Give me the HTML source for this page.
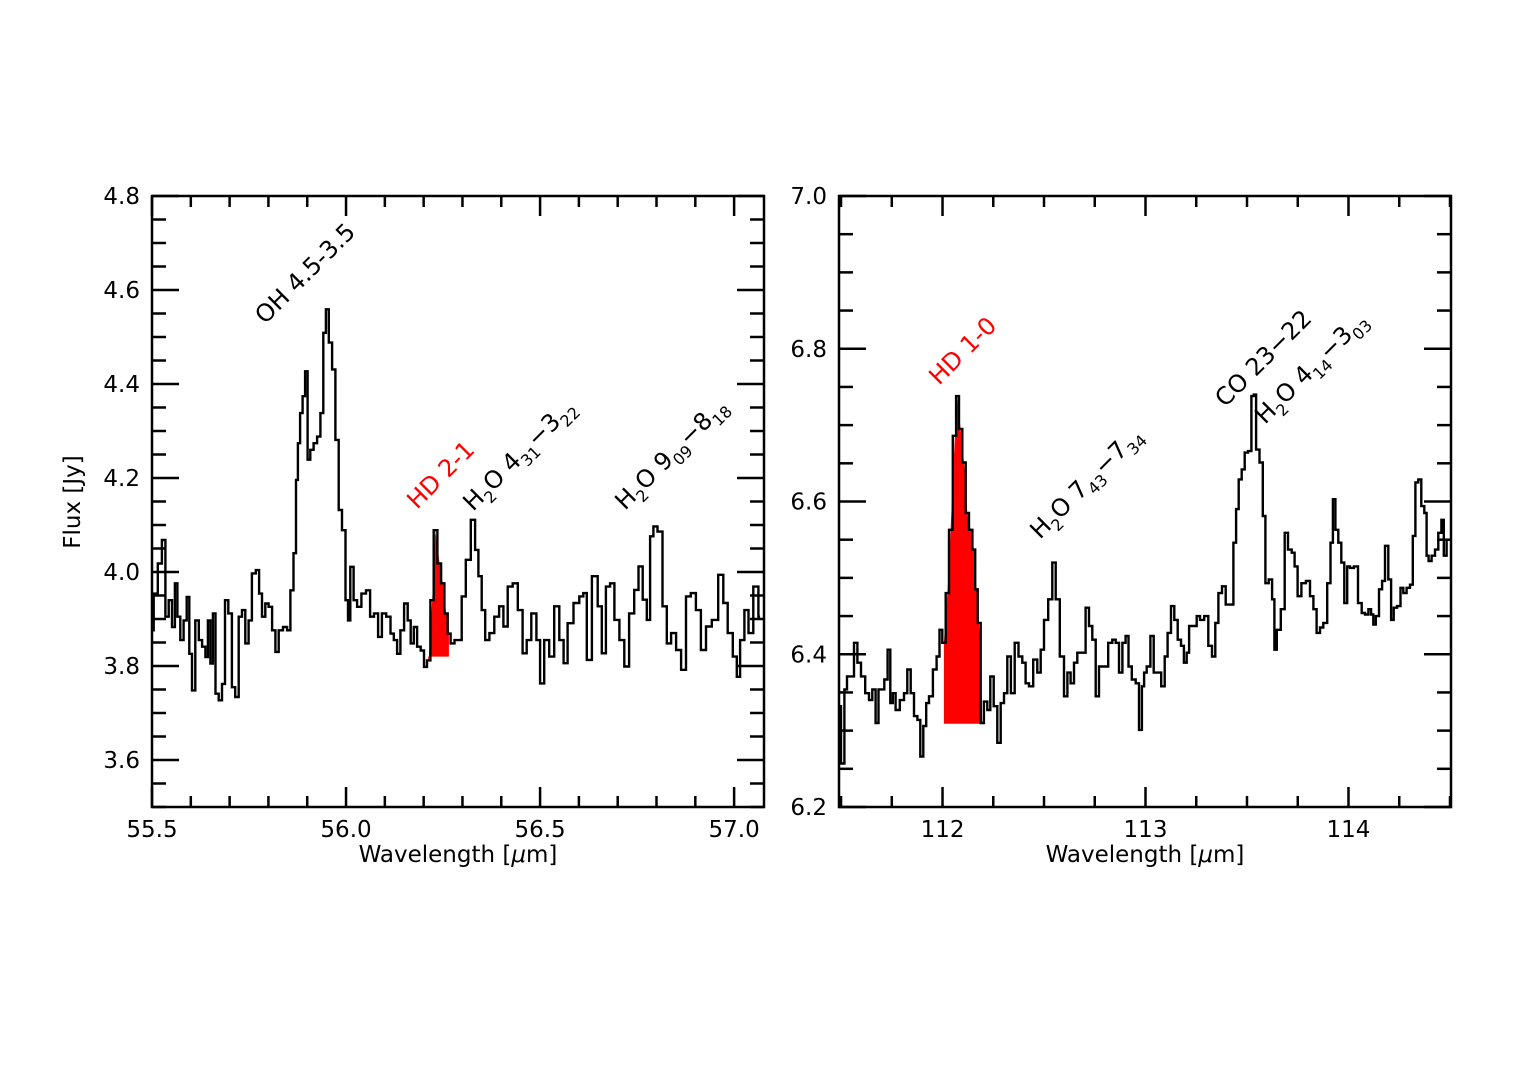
<!DOCTYPE html>
<html><head><meta charset="utf-8"><style>
html,body{margin:0;padding:0;background:#fff;}
svg{display:block;font-family:"DejaVu Sans","Liberation Sans",sans-serif;}
</style></head><body>
<svg id="fig" width="1528" height="1080" viewBox="0 0 1528 1080" xmlns="http://www.w3.org/2000/svg"></svg>
<script>
// ---- Left panel data ----
const leftWl = [55.500,55.509,55.521,55.530,55.539,55.547,55.556,55.562,55.569,55.577,55.586,55.593,55.599,55.607,55.616,55.625,55.633,55.642,55.646,55.655,55.659,55.668,55.676,55.685,55.691,55.702,55.710,55.719,55.728,55.736,55.745,55.753,55.762,55.773,55.779,55.788,55.796,55.805,55.814,55.822,55.831,55.844,55.852,55.861,55.868,55.874,55.878,55.885,55.891,55.898,55.904,55.912,55.921,55.930,55.938,55.945,55.951,55.960,55.968,55.977,55.985,55.994,56.003,56.007,56.015,56.024,56.033,56.046,56.057,56.067,56.077,56.088,56.097,56.110,56.119,56.127,56.136,56.144,56.155,56.163,56.170,56.179,56.187,56.198,56.204,56.213,56.222,56.230,56.241,56.249,56.258,56.266,56.273,56.286,56.294,56.302,56.315,56.328,56.337,56.345,56.354,56.363,56.376,56.388,56.401,56.410,56.423,56.436,56.449,56.461,56.470,56.485,56.496,56.504,56.517,56.530,56.543,56.556,56.565,56.577,56.595,56.607,56.616,56.625,56.642,56.655,56.663,56.676,56.685,56.698,56.711,56.723,56.736,56.749,56.758,56.771,56.779,56.788,56.796,56.809,56.822,56.831,56.844,56.857,56.870,56.882,56.895,56.908,56.921,56.934,56.951,56.967,56.977,56.990,57.003,57.011,57.020,57.033,57.041,57.058,57.067];
const leftFlux = [3.876,3.954,4.018,4.068,3.905,3.940,3.883,3.976,3.905,3.855,3.897,3.947,3.826,3.748,3.897,3.855,3.841,3.819,3.897,3.805,3.912,3.741,3.727,3.762,3.940,3.912,3.755,3.734,3.905,3.919,3.848,3.897,3.997,4.004,3.954,3.905,3.933,3.926,3.876,3.830,3.876,3.883,3.876,3.961,4.040,4.196,4.274,4.338,4.374,4.427,4.239,4.260,4.274,4.288,4.338,4.509,4.559,4.488,4.431,4.281,4.132,4.089,3.940,3.897,4.011,3.940,3.926,3.954,3.961,3.905,3.912,3.862,3.912,3.905,3.869,3.855,3.826,3.876,3.933,3.897,3.848,3.883,3.841,3.833,3.798,3.812,3.940,4.089,4.018,3.976,3.912,3.869,3.848,3.855,3.855,3.948,4.026,4.111,4.047,3.991,3.919,3.855,3.870,3.905,3.927,3.884,3.969,3.976,3.919,3.827,3.855,3.912,3.855,3.763,3.855,3.820,3.927,3.855,3.806,3.891,3.934,3.948,3.955,3.813,3.991,3.927,3.827,3.969,3.976,3.898,3.855,3.799,3.912,3.962,4.012,3.941,3.898,4.076,4.097,4.086,3.927,3.848,3.870,3.834,3.792,3.948,3.955,3.919,3.834,3.884,3.898,3.994,3.934,3.870,3.820,3.777,3.855,3.919,3.870,3.969,3.905];
const leftTicksX = [55.5,56.0,56.5,57.0];
const leftTickLabelsX = ["55.5","56.0","56.5","57.0"];
const leftTicksY = [3.6,3.8,4.0,4.2,4.4,4.6,4.8];
const leftTickLabelsY = ["3.6","3.8","4.0","4.2","4.4","4.6","4.8"];
const leftFillRange = [56.211,56.265];
const leftFillBase = 3.82;

// ---- Right panel data ----
const rightWl = [111.490,111.510,111.523,111.536,111.556,111.572,111.589,111.608,111.630,111.646,111.662,111.679,111.690,111.703,111.723,111.736,111.749,111.761,111.777,111.802,111.818,111.835,111.851,111.868,111.884,111.897,111.914,111.925,111.942,111.963,111.979,111.991,112.007,112.024,112.040,112.061,112.073,112.089,112.106,112.122,112.139,112.155,112.167,112.180,112.196,112.212,112.229,112.242,112.262,112.278,112.295,112.311,112.327,112.347,112.364,112.385,112.401,112.418,112.434,112.459,112.475,112.492,112.508,112.533,112.549,112.566,112.590,112.607,112.623,112.639,112.656,112.672,112.697,112.713,112.730,112.746,112.763,112.779,112.804,112.828,112.845,112.861,112.878,112.894,112.910,112.922,112.943,112.960,112.976,112.988,112.998,113.014,113.034,113.047,113.067,113.088,113.101,113.117,113.134,113.150,113.167,113.183,113.195,113.211,113.219,113.244,113.260,113.277,113.301,113.318,113.337,113.351,113.367,113.387,113.403,113.425,113.441,113.452,113.466,113.482,113.495,113.515,113.528,113.539,113.551,113.572,113.584,113.597,113.617,113.630,113.640,113.654,113.679,113.692,113.712,113.728,113.741,113.758,113.778,113.802,113.819,113.835,113.851,113.868,113.884,113.906,113.917,113.929,113.942,113.958,113.971,113.988,113.999,114.016,114.037,114.057,114.073,114.090,114.106,114.117,114.127,114.142,114.159,114.172,114.188,114.204,114.216,114.229,114.250,114.262,114.278,114.295,114.311,114.323,114.336,114.352,114.365,114.382,114.388,114.401,114.418,114.434,114.451,114.464,114.475,114.492];
const rightFlux = [6.332,6.257,6.354,6.371,6.371,6.415,6.389,6.371,6.349,6.340,6.354,6.310,6.354,6.354,6.367,6.406,6.336,6.349,6.327,6.340,6.349,6.380,6.349,6.319,6.314,6.266,6.306,6.336,6.345,6.380,6.397,6.432,6.415,6.480,6.563,6.686,6.738,6.695,6.651,6.585,6.563,6.537,6.485,6.441,6.310,6.338,6.327,6.371,6.332,6.284,6.336,6.349,6.397,6.349,6.415,6.397,6.389,6.362,6.358,6.393,6.376,6.406,6.445,6.472,6.520,6.472,6.397,6.345,6.376,6.362,6.389,6.402,6.402,6.461,6.437,6.419,6.345,6.384,6.384,6.415,6.419,6.415,6.376,6.415,6.424,6.384,6.367,6.362,6.301,6.358,6.376,6.384,6.424,6.376,6.376,6.358,6.397,6.428,6.463,6.445,6.419,6.411,6.389,6.402,6.437,6.437,6.450,6.445,6.450,6.411,6.397,6.441,6.480,6.489,6.465,6.465,6.546,6.590,6.629,6.642,6.664,6.666,6.738,6.740,6.668,6.651,6.581,6.493,6.498,6.472,6.406,6.432,6.459,6.559,6.537,6.533,6.515,6.476,6.493,6.496,6.476,6.459,6.428,6.435,6.441,6.493,6.546,6.603,6.563,6.546,6.520,6.467,6.515,6.513,6.515,6.467,6.454,6.452,6.459,6.452,6.439,6.450,6.485,6.496,6.542,6.498,6.445,6.461,6.463,6.487,6.480,6.487,6.491,6.555,6.625,6.629,6.594,6.585,6.529,6.522,6.529,6.537,6.559,6.576,6.529,6.550];
const rightTicksX = [112,113,114];
const rightTickLabelsX = ["112","113","114"];
const rightTicksY = [6.2,6.4,6.6,6.8,7.0];
const rightTickLabelsY = ["6.2","6.4","6.6","6.8","7.0"];
const rightFillRange = [112.007,112.195];
const rightFillBase = 6.309;

const NS = "http://www.w3.org/2000/svg";
const svg = document.getElementById('fig');
function mk(tag, attrs, parent){
  const e = document.createElementNS(NS, tag);
  for (const k in attrs) e.setAttribute(k, attrs[k]);
  (parent||svg).appendChild(e);
  return e;
}
function interp(xs, ys, x){
  for (let i=0;i<xs.length-1;i++){
    if (x>=xs[i] && x<=xs[i+1]) return ys[i]+(ys[i+1]-ys[i])*(x-xs[i])/(xs[i+1]-xs[i]);
  }
  return ys[ys.length-1];
}

function panel(cfg){
  const g = mk('g', {});
  
  
  const L=cfg.x0, R=cfg.x1, T=cfg.y0, B=cfg.y1;
  const sx = v => L + (v - cfg.xmin)/(cfg.xmax - cfg.xmin)*(R-L);
  const sy = v => B - (v - cfg.ymin)/(cfg.ymax - cfg.ymin)*(B-T);
  const cid = cfg.name + '-clip';
  const cp = mk('clipPath', {id: cid}, g);
  mk('rect', {x:L, y:T, width:R-L, height:B-T}, cp);

  // fill (linear interpolation of data within range)
  const [a,b] = cfg.fillRange;
  const fx = [a], fy = [interp(cfg.wl, cfg.flux, a)];
  for (let i=0;i<cfg.wl.length;i++){
    if (cfg.wl[i] > a && cfg.wl[i] < b){ fx.push(cfg.wl[i]); fy.push(cfg.flux[i]); }
  }
  fx.push(b); fy.push(interp(cfg.wl, cfg.flux, b));
  let pts = sx(a).toFixed(1)+','+sy(cfg.fillBase).toFixed(1)+' ';
  for (let i=0;i<fx.length;i++) pts += sx(fx[i]).toFixed(1)+','+sy(fy[i]).toFixed(1)+' ';
  pts += sx(b).toFixed(1)+','+sy(cfg.fillBase).toFixed(1);
  const poly = mk('polygon', {points: pts, fill:'#ff0000', stroke:'none', 'clip-path':'url(#'+cid+')'}, g);
  
  

  // spectrum steps (mid)
  let d = '';
  for (let i=0;i<cfg.wl.length;i++){
    const xl = i===0 ? cfg.wl[0] : (cfg.wl[i-1]+cfg.wl[i])/2;
    const xr = i===cfg.wl.length-1 ? cfg.wl[i] : (cfg.wl[i]+cfg.wl[i+1])/2;
    const y = sy(cfg.flux[i]).toFixed(1);
    d += (i===0?'M':'L') + sx(xl).toFixed(1)+','+y+' L'+sx(xr).toFixed(1)+','+y+' ';
  }
  const sp = mk('path', {d:d, fill:'none', stroke:'#000', 'stroke-width':2.4, 'stroke-linejoin':'miter', 'clip-path':'url(#'+cid+')'}, g);
  
  

  const tg = mk('g', {stroke:'#000','stroke-width':2.5}, g);
  
  
  const xmStart = Math.ceil(cfg.xmin/cfg.xminor - 1e-6)*cfg.xminor;
  for (let v=xmStart; v<=cfg.xmax+1e-9; v+=cfg.xminor){
    const isMaj = cfg.ticksX.some(t=>Math.abs(t-v)<1e-6);
    const len = isMaj?20:11, x=sx(v);
    mk('line',{x1:x,y1:B,x2:x,y2:B-len},tg);
    mk('line',{x1:x,y1:T,x2:x,y2:T+len},tg);
  }
  const ymStart = Math.ceil(cfg.ymin/cfg.yminor - 1e-6)*cfg.yminor;
  for (let v=ymStart; v<=cfg.ymax+1e-9; v+=cfg.yminor){
    const isMaj = cfg.ticksY.some(t=>Math.abs(t-v)<1e-6);
    const len = isMaj?27:14, y=sy(v);
    mk('line',{x1:L,y1:y,x2:L+len,y2:y},tg);
    mk('line',{x1:R,y1:y,x2:R-len,y2:y},tg);
  }
  const fr = mk('rect',{x:L,y:T,width:R-L,height:B-T,fill:'none',stroke:'#000','stroke-width':2.5},g);
  
  
  cfg.ticksX.forEach((v,i)=>{
    const t = mk('text',{x:sx(v),y:B+30,'text-anchor':'middle','font-size':23,fill:'#000'},g);
    t.textContent = cfg.labelsX[i];
    
    
  });
  cfg.ticksY.forEach((v,i)=>{
    const t = mk('text',{x:L-12,y:sy(v)+8,'text-anchor':'end','font-size':23,fill:'#000'},g);
    t.textContent = cfg.labelsY[i];
    
    
  });
  const xl = mk('text',{x:(L+R)/2,y:B+55,'text-anchor':'middle','font-size':23,fill:'#000'},g);
  xl.innerHTML = 'Wavelength [<tspan font-style="italic">μ</tspan>m]';
  
  
}

panel({name:'left-panel', x0:152, x1:764, y0:196, y1:807, xmin:55.5, xmax:57.077, ymin:3.5, ymax:4.8,
  xminor:0.1, yminor:0.05, wl:leftWl, flux:leftFlux, ticksX:leftTicksX, labelsX:leftTickLabelsX,
  ticksY:leftTicksY, labelsY:leftTickLabelsY, fillRange:leftFillRange, fillBase:leftFillBase});
panel({name:'right-panel', x0:839, x1:1451, y0:196, y1:807, xmin:111.49, xmax:114.505, ymin:6.2, ymax:7.0,
  xminor:0.25, yminor:0.05, wl:rightWl, flux:rightFlux, ticksX:rightTicksX, labelsX:rightTickLabelsX,
  ticksY:rightTicksY, labelsY:rightTickLabelsY, fillRange:rightFillRange, fillBase:rightFillBase});

const yt = mk('text',{x:0,y:0,transform:'translate(80,502) rotate(-90)','text-anchor':'middle','font-size':23,fill:'#000'});
yt.textContent = 'Flux [Jy]';



const annots = [
  {x:265,y:325,c:'#000',h:'OH 4.5-3.5',n:'oh-label'},
  {x:417,y:510,c:'#ff0000',h:'HD 2-1',n:'hd21-label'},
  {x:473,y:512,c:'#000',h:'H<tspan font-size="16" dy="7">2</tspan><tspan dy="-7">O 4</tspan><tspan font-size="16" dy="7">31</tspan><tspan dy="-7">−3</tspan><tspan font-size="16" dy="7">22</tspan>',n:'h2o-431-label'},
  {x:625,y:511,c:'#000',h:'H<tspan font-size="16" dy="7">2</tspan><tspan dy="-7">O 9</tspan><tspan font-size="16" dy="7">09</tspan><tspan dy="-7">−8</tspan><tspan font-size="16" dy="7">18</tspan>',n:'h2o-909-label'},
  {x:939,y:386,c:'#ff0000',h:'HD 1-0',n:'hd10-label'},
  {x:1040,y:540,c:'#000',h:'H<tspan font-size="16" dy="7">2</tspan><tspan dy="-7">O 7</tspan><tspan font-size="16" dy="7">43</tspan><tspan dy="-7">−7</tspan><tspan font-size="16" dy="7">34</tspan>',n:'h2o-743-label'},
  {x:1225,y:408,c:'#000',h:'CO 23−22',n:'co-label'},
  {x:1265,y:425,c:'#000',h:'H<tspan font-size="16" dy="7">2</tspan><tspan dy="-7">O 4</tspan><tspan font-size="16" dy="7">14</tspan><tspan dy="-7">−3</tspan><tspan font-size="16" dy="7">03</tspan>',n:'h2o-414-label'}
];
annots.forEach(a=>{
  const t = mk('text',{x:0,y:0,transform:'translate('+a.x+','+a.y+') rotate(-45)','font-size':24,fill:a.c});
  t.innerHTML = a.h;
  
  
});
</script>
</body></html>
